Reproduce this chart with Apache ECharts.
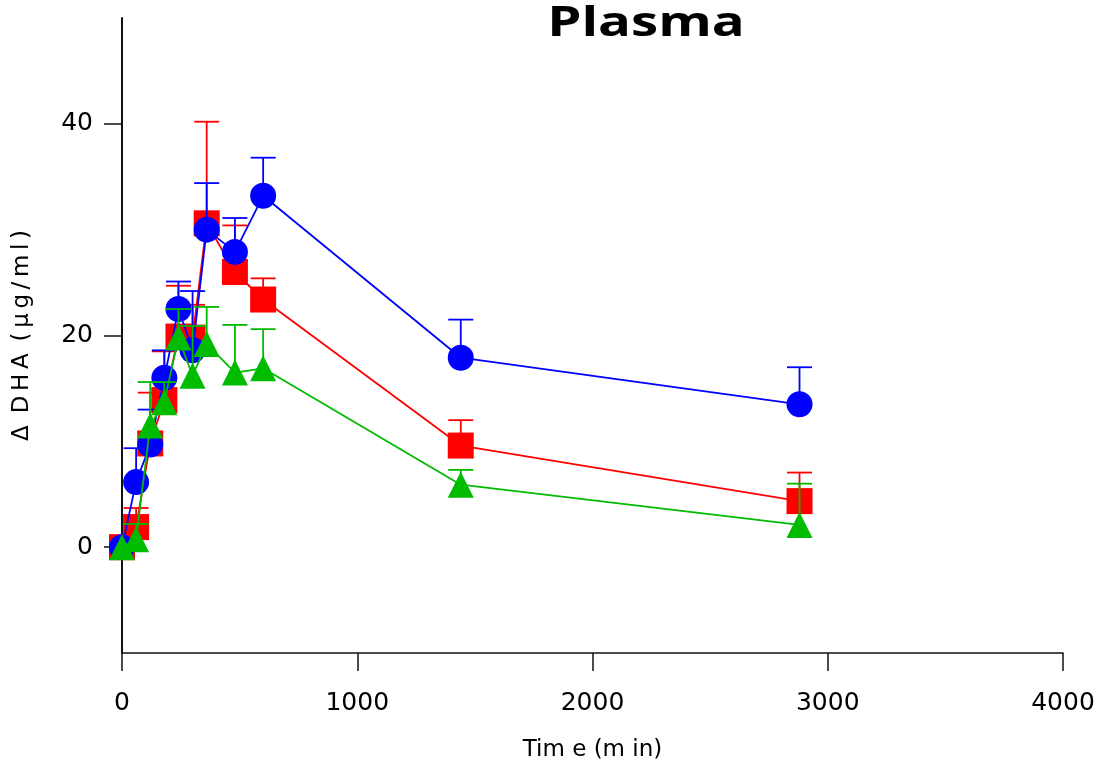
<!DOCTYPE html>
<html>
<head>
<meta charset="utf-8">
<script src="https://cdn.jsdelivr.net/npm/echarts@6/dist/echarts.min.js"></script>
<style>html,body{margin:0;padding:0;background:#fff}#c{width:1102px;height:769px}</style>
</head>
<body>
<div id="c"></div>
<script>
const times = [0, 60, 120, 180, 240, 300, 360, 480, 600, 1440, 2880];
const blueVals = [0, 6.15, 9.7, 16.0, 22.5, 18.6, 30.0, 27.9, 33.2, 17.9, 13.5];
const blueErr  = [0, 3.2, 3.3, 2.6, 2.6, 5.6, 4.4, 3.2, 3.6, 3.6, 3.5];
const redVals  = [0, 1.9, 9.8, 13.9, 19.9, 19.8, 30.6, 26.0, 23.4, 9.6, 4.35];
const redErr   = [0, 1.8, 4.8, 4.6, 4.8, 3.1, 9.6, 4.4, 2.0, 2.4, 2.7];
const greenVals = [0, 0.75, 11.5, 13.7, 19.8, 16.2, 19.2, 16.5, 16.9, 5.9, 2.1];
const greenErr  = [0, 1.45, 4.1, 1.9, 2.7, 4.7, 3.5, 4.5, 3.7, 1.4, 3.9];
const xTicks = [0, 1000, 2000, 3000, 4000];
const yTicks = [0, 20, 40];

const FONT = 'DejaVu Sans';
const chart = echarts.init(document.getElementById('c'), null, {renderer: 'canvas'});

function lineSeries(vals, color, symbol, z) {
  return {
    type: 'line',
    data: times.map((t, i) => [t, vals[i]]),
    symbol: symbol, symbolSize: 26, showAllSymbol: true,
    lineStyle: {color: color, width: 1.8},
    itemStyle: {color: color},
    z: z, silent: true, animation: false
  };
}
function errSeries(vals, errs, color, z) {
  return {
    type: 'custom',
    data: times.map((t, i) => [t, vals[i], errs[i]]),
    renderItem: function (params, api) {
      const x = api.value(0), y = api.value(1), e = api.value(2);
      if (!e) return null;
      const p0 = api.coord([x, y]);
      const p1 = api.coord([x, y + e]);
      const hw = 12.5;
      return {
        type: 'group',
        children: [
          {type: 'line', shape: {x1: p0[0], y1: p0[1], x2: p1[0], y2: p1[1]}, style: {stroke: color, lineWidth: 1.8}},
          {type: 'line', shape: {x1: p1[0] - hw, y1: p1[1], x2: p1[0] + hw, y2: p1[1]}, style: {stroke: color, lineWidth: 1.8}}
        ]
      };
    },
    z: z, silent: true, animation: false
  };
}

const option = {
  animation: false,
  grid: {left: 122, right: 39, top: 18, bottom: 116, containLabel: false},
  graphic: [{
    type: 'text', x: 646, y: 24, scaleX: 1.3, scaleY: 1,
    style: {text: 'Plasma', fontFamily: 'Open Sans', fontWeight: 'bold', fontSize: 42, fill: '#000', align: 'center', verticalAlign: 'middle'}
  }],
  xAxis: {
    type: 'value', min: 0, max: 4000, interval: 1000,
    name: 'Tim e (m in)', nameLocation: 'middle', nameGap: 86,
    nameTextStyle: {fontFamily: FONT, fontSize: 23, color: '#000'},
    axisLine: {show: true, onZero: false, lineStyle: {color: '#111', width: 1.5}},
    axisTick: {show: true, length: 18, lineStyle: {color: '#111', width: 1.5}, customValues: xTicks},
    axisLabel: {fontFamily: FONT, fontSize: 25, color: '#000', margin: 38, customValues: xTicks,
      formatter: function (v) { return String(v); }},
    splitLine: {show: false}
  },
  yAxis: {
    type: 'value', min: -10, max: 50,
    name: '\u0394\u2009 D\u2009H\u2009A\u2009 (\u2009\u03bc\u2009g\u2009/\u2009m\u2009l\u2009)', nameLocation: 'middle', nameGap: 88, nameRotate: 90,
    nameTextStyle: {fontFamily: FONT, fontSize: 23, color: '#000'},
    axisLine: {show: true, onZero: false, lineStyle: {color: '#111', width: 2}},
    axisTick: {show: true, length: 18, lineStyle: {color: '#111', width: 1.5}, customValues: yTicks},
    axisLabel: {fontFamily: FONT, fontSize: 25, color: '#000', margin: 29, customValues: yTicks,
      formatter: function (v) { return String(v); }},
    splitLine: {show: false}
  },
  series: [
    lineSeries(redVals, '#ff0000', 'rect', 2),
    errSeries(redVals, redErr, '#ff0000', 3),
    lineSeries(blueVals, '#0000ff', 'circle', 4),
    errSeries(blueVals, blueErr, '#0000ff', 5),
    lineSeries(greenVals, '#00bb00', 'triangle', 6),
    errSeries(greenVals, greenErr, '#00bb00', 7)
  ]
};
chart.setOption(option);
</script>
</body>
</html>
